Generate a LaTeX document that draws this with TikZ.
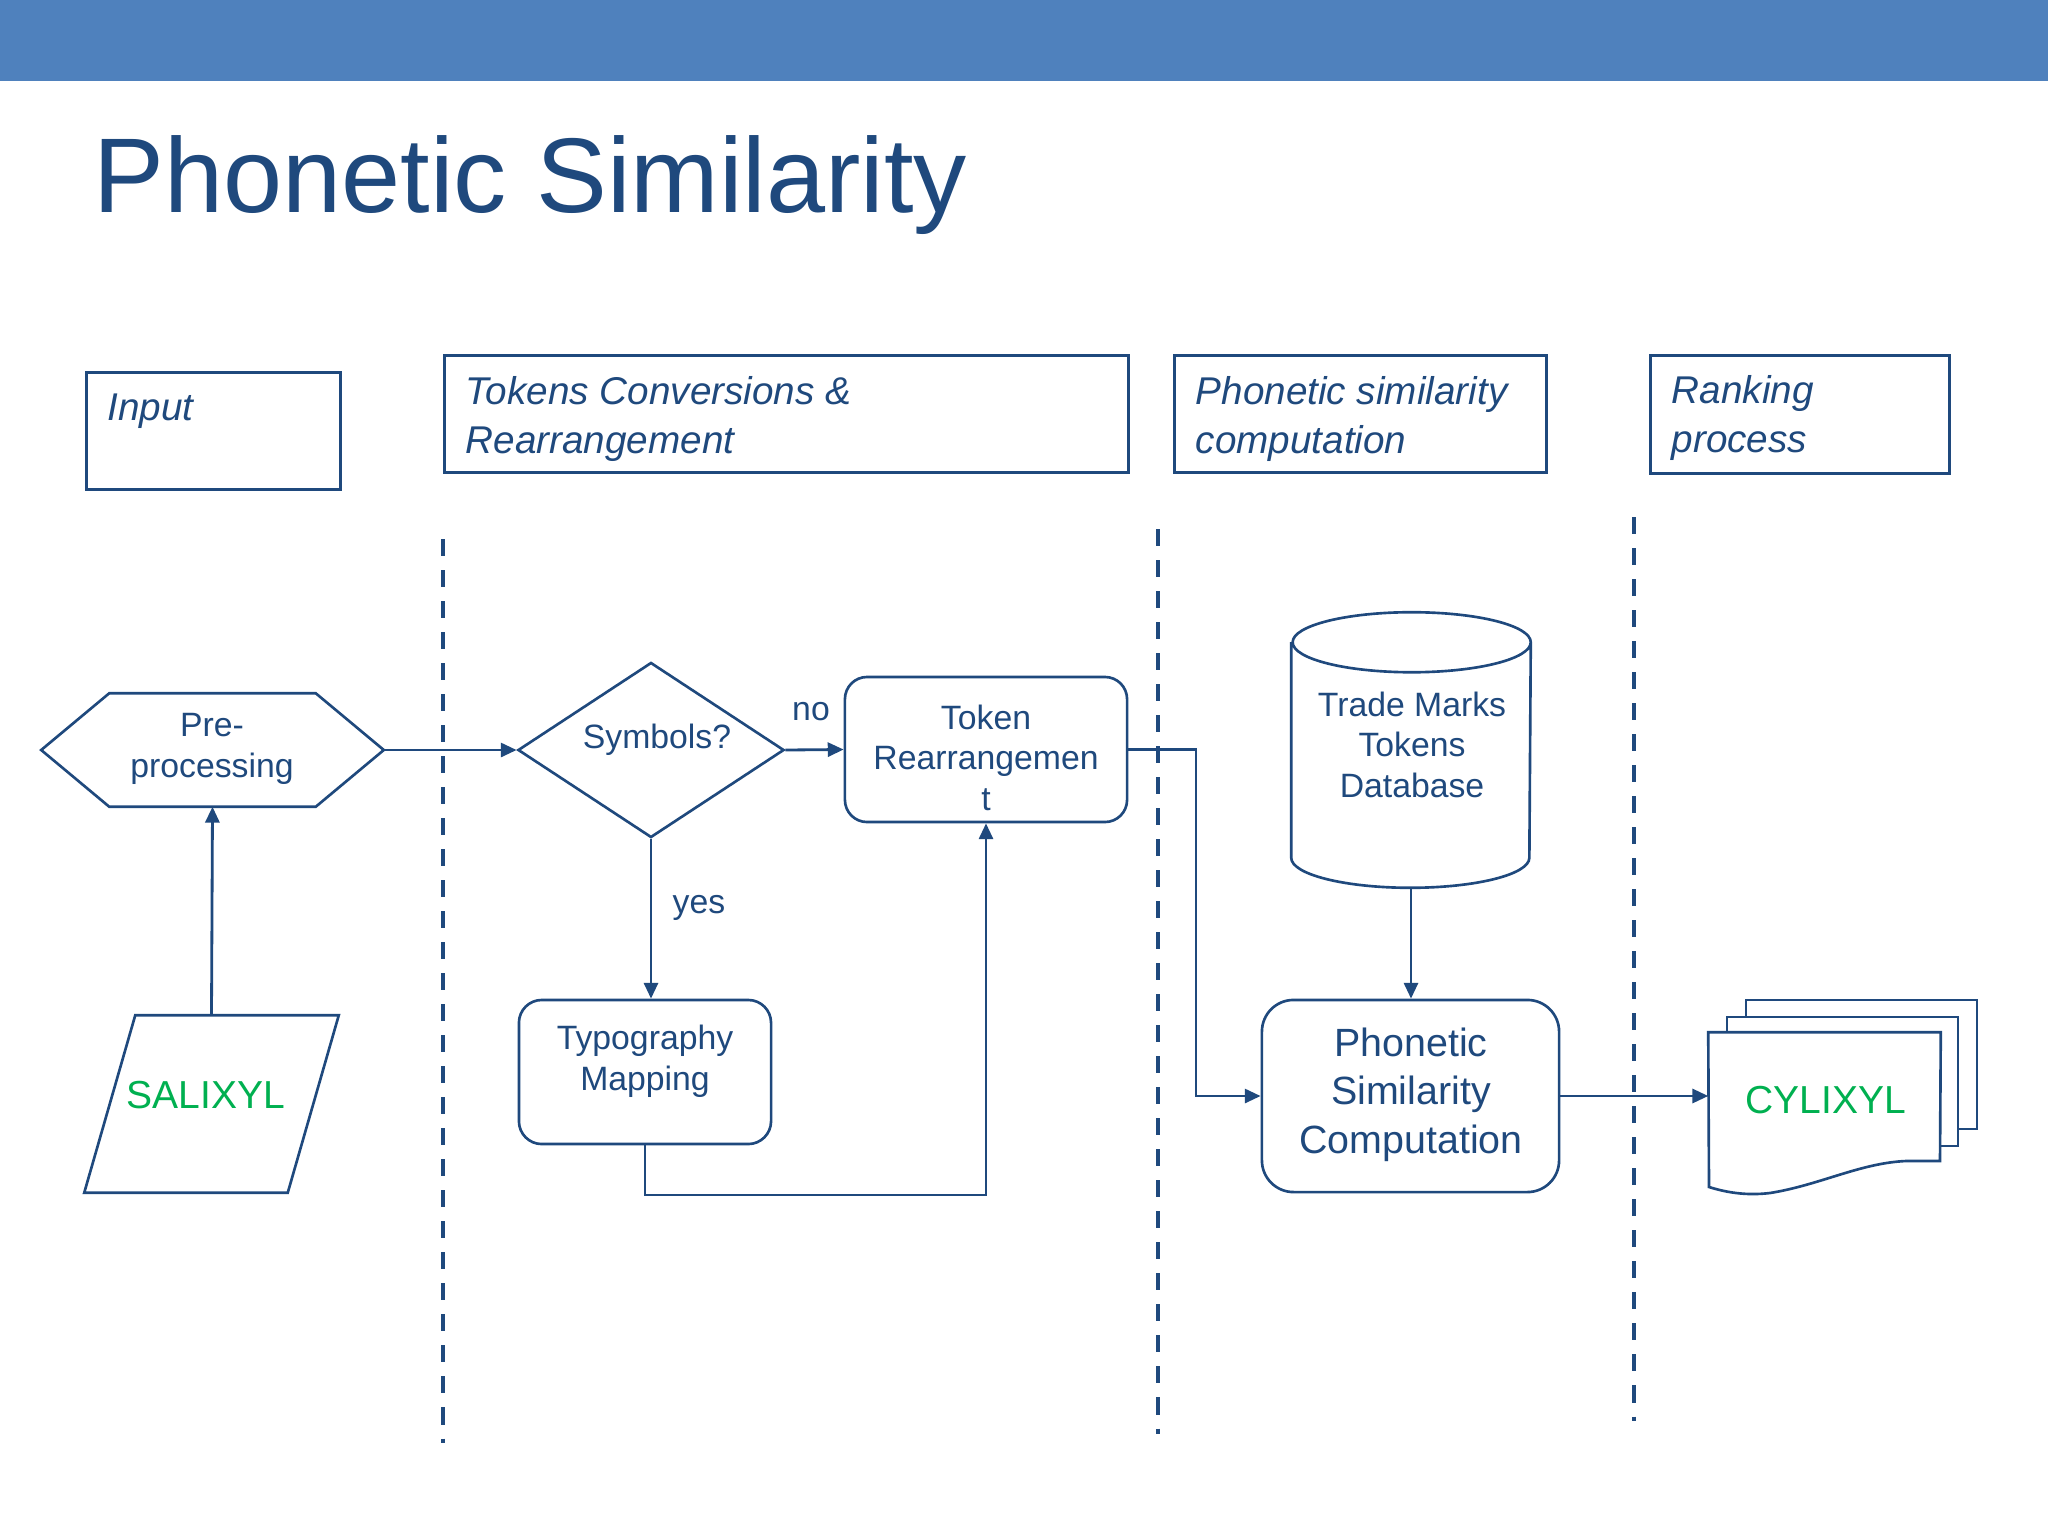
\documentclass[tikz,border=0pt]{standalone}
\usepackage{fontspec}
\setmainfont{Liberation Sans}
\usetikzlibrary{arrows.meta,shapes.geometric}
\definecolor{band}{HTML}{4F81BD}
\definecolor{dk}{HTML}{1F497D}
\definecolor{grn}{HTML}{00B050}
\newcommand\myTitleFont{\fontsize{30.2}{36}\selectfont}
\newcommand\myHdrFont{\fontsize{11}{13.66}\selectfont\itshape}
\newcommand\mySmallFont{\fontsize{9.6}{11.4}\selectfont}
\newcommand\myBigFont{\fontsize{11.2}{13.66}\selectfont}
\newcommand\myGrnFont{\fontsize{11.1}{13}\selectfont}
\begin{document}
\begin{tikzpicture}[x=0.01cm,y=-0.01cm,
  ln/.style={draw=dk,line width=0.75pt,line join=miter},
  arr/.style={draw=dk,line width=0.8pt,-{Triangle[length=4.5pt,width=4pt]}},
  hdrbox/.style={draw=dk,line width=0.75pt,inner sep=0,anchor=north west},
  lbl/.style={text=dk,inner sep=0,anchor=base,align=center,font=\mySmallFont},
  hdrtxt/.style={text=dk,inner sep=0,anchor=base west,align=left,font=\myHdrFont},
  lane/.style={draw=dk,line width=1.15pt,dash pattern=on 4.84pt off 3.98pt},
  rbox/.style={draw=dk,line width=0.75pt,fill=white,inner sep=0},
  ghost/.style={inner sep=0,draw=none},
  grntxt/.style={text=grn,inner sep=0,anchor=base,font=\myGrnFont},
]
% canvas
\fill[white] (0,0) rectangle (2048,1536);
\useasboundingbox (0,0) rectangle (2048,1536);
\fill[band] (0,0) rectangle (2048,81);
\node[text=dk,inner sep=0,anchor=base west,font=\myTitleFont] (title) at (93,212) {Phonetic Similarity};

% header boxes (multi-line nodes: base anchor = last line baseline)
\node[hdrbox,minimum width=2.54cm,minimum height=1.17cm] (hin) at (85,371) {};
\node[hdrbox,minimum width=6.84cm,minimum height=1.17cm] (htc) at (443,354) {};
\node[hdrbox,minimum width=3.72cm,minimum height=1.17cm] (hpc) at (1173,354) {};
\node[hdrbox,minimum width=2.99cm,minimum height=1.18cm] (hrp) at (1649,354) {};
\node[hdrtxt] (tin) at (107,420) {Input};
\node[hdrtxt] (ttc) at (465,453) {Tokens Conversions \&\\Rearrangement};
\node[hdrtxt] (tpc) at (1195,453) {Phonetic similarity\\computation};
\node[hdrtxt] (trp) at (1671,452) {Ranking\\process};

% swimlane separators
\draw[lane] (443,539) -- (443,1443);
\draw[lane] (1158,529) -- (1158,1434);
\draw[lane] (1634,517) -- (1634,1421);

% pre-processing hexagon
\node[ghost,minimum width=3.41cm,minimum height=1.12cm] (pre) at (212.5,750) {};
\draw[ln,fill=white] (pre.west) -- ([xshift=0.68cm]pre.north west) -- ([xshift=-0.68cm]pre.north east)
  -- (pre.east) -- ([xshift=-0.68cm]pre.south east) -- ([xshift=0.68cm]pre.south west) -- cycle;
\node[lbl] (pret) at (212,777) {Pre-\\processing};

% input parallelogram
\node[ghost,minimum width=2.53cm,minimum height=1.76cm] (sal) at (211.5,1104) {};
\draw[ln,fill=white] ([xshift=0.51cm]sal.north west) -- (sal.north east)
  -- ([xshift=-0.51cm]sal.south east) -- (sal.south west) -- cycle;
\node[grntxt] (salt) at (206,1108) {SALIXYL};

% decision
\node[diamond,draw=dk,line width=0.75pt,fill=white,minimum width=2.66cm,minimum height=1.75cm,inner sep=0] (sym) at (651,750) {};
\node[lbl] (symt) at (657,748) {Symbols?};

% token rearrangement
\node[rbox,rounded corners=6.3pt,minimum width=2.82cm,minimum height=1.45cm] (tok) at (986,749.5) {};
\node[lbl] (tokt) at (986,810) {Token\\Rearrangemen\\t};

% typography mapping
\node[rbox,rounded corners=6.5pt,minimum width=2.52cm,minimum height=1.44cm] (typo) at (645,1072) {};
\node[lbl] (typot) at (645,1090) {Typography\\Mapping};

% database
\node[ghost,minimum width=2.38cm,minimum height=2.74cm] (db) at (1411,750) {};
\draw[ln,fill=white] ([yshift=-0.3cm]db.north west) -- ([yshift=0.3cm]db.south west)
  arc[start angle=180,end angle=360,x radius=1.19cm,y radius=0.3cm]
  -- ([yshift=-0.3cm]db.north east)
  arc[start angle=0,end angle=180,x radius=1.19cm,y radius=0.3cm]
  arc[start angle=180,end angle=360,x radius=1.19cm,y radius=0.3cm];
\node[lbl] (dbt) at (1412,797) {Trade Marks\\Tokens\\Database};

% phonetic similarity computation
\node[rbox,rounded corners=9pt,minimum width=2.97cm,minimum height=1.92cm] (psc) at (1410.5,1096) {};
\node[lbl,font=\myBigFont] (psct) at (1411,1153) {Phonetic\\Similarity\\Computation};

% multi-document output
\node[ghost,minimum width=2.31cm,minimum height=1.59cm] (doc) at (1824.5,1112.5) {};
\draw[ln,fill=white] (1746,1033) -- (1746,1000) -- (1977,1000) -- (1977,1129) -- (1958,1129) -- (1958,1033) -- cycle;
\draw[ln,fill=white] (1727,1040) -- (1727,1017) -- (1958,1017) -- (1958,1146) -- (1940,1146) -- (1940,1040) -- cycle;
\draw[ln,fill=white] (doc.north west) -- (doc.north east) -- (1940,1161) -- (1906,1161)
  .. controls (1860,1163) and (1820,1185) .. (1770,1193)
  .. controls (1745,1196) and (1725,1192) .. (1709,1187) -- cycle;
\node[grntxt] (cylt) at (1826,1113) {CYLIXYL};

% labels
\node[lbl] (noL) at (811,720) {no};
\node[lbl] (yesL) at (699,913) {yes};

% connectors
\coordinate (loopy) at (0,1195);
\coordinate (bendx) at (1196,0);
\draw[arr] (sal.north) -- (pre.south);
\draw[arr] (pre.east) -- (sym.west);
\draw[arr] (sym.east) -- (tok.west);
\draw[arr] (sym.south) -- (sym.south |- typo.north);
\draw[arr] (typo.south) -- (typo.south |- loopy) -- (tok.south |- loopy) -- (tok.south);
\draw[arr] (tok.east) -- (tok.east -| bendx) -- (psc.west -| bendx) -- (psc.west);
\draw[arr] (db.south) -- (db.south |- psc.north);
\draw[arr] (psc.east) -- (psc.east -| doc.west);
\end{tikzpicture}
\end{document}
